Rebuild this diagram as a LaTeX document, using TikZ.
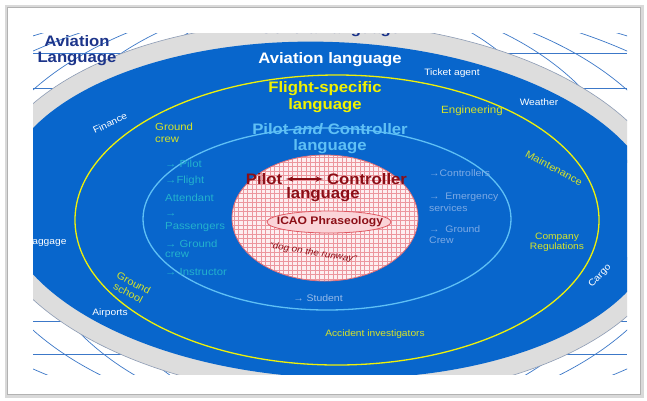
\documentclass[tikz,border=0pt]{standalone}
\usepackage{fontspec}
\setmainfont{Liberation Sans}[FakeStretch=1.1]
\usetikzlibrary{arrows}

\definecolor{navy}{RGB}{28,52,138}
\definecolor{avblue}{RGB}{8,102,204}
\definecolor{ringgray}{RGB}{221,221,221}
\definecolor{ringline}{RGB}{140,155,180}
\definecolor{gridblue}{RGB}{60,120,200}
\definecolor{lineyellow}{RGB}{238,240,10}
\definecolor{textyellow}{RGB}{215,228,40}
\definecolor{headyellow}{RGB}{242,242,0}
\definecolor{pcblue}{RGB}{95,192,245}
\definecolor{tealtext}{RGB}{35,178,205}
\definecolor{steel}{RGB}{125,170,228}
\definecolor{darkred}{RGB}{140,14,22}
\definecolor{pinkfill}{RGB}{253,238,240}
\definecolor{gridred}{RGB}{236,150,158}
\definecolor{coreline}{RGB}{222,110,120}
\definecolor{icaofill}{RGB}{251,212,216}
\definecolor{icaoline}{RGB}{224,88,98}

\begin{document}
\begin{tikzpicture}[x=1pt,y=-1pt]

\tikzset{globe/.style = {draw=gridblue, line width=0.7pt}}
\tikzset{ring/.style = {line width=1.3pt}}
\tikzset{head/.style = {font=\bfseries\fontsize{15.2}{16}\selectfont, align=center}}
\tikzset{core/.style = {font=\bfseries\fontsize{15.2}{16}\selectfont, text=darkred}}
\tikzset{tag/.style = {font=\fontsize{9.3}{10.5}\selectfont, align=center}}
\tikzset{item/.style = {font=\fontsize{10.3}{12}\selectfont, anchor=west, inner sep=0pt}}
\tikzset{edge/.style = {<->,> = latex', line width=1.6pt}}

\useasboundingbox (0,0) rectangle (647,400);
\fill[white] (0,0) rectangle (647,400);
\draw[black!15, line width=3pt] (6,6) rectangle (642,396);
\draw[black!30, line width=0.6pt] (7.5,7.5) rectangle (640.5,394.5);

% globe and outer rings
\begin{scope}
\clip (33,33) rectangle (627,374);
\draw[globe] (330,210) ellipse [x radius=250, y radius=215];
\draw[globe] (330,210) ellipse [x radius=305, y radius=215];
\draw[globe] (330,210) ellipse [x radius=358, y radius=215];
\draw[globe] (330,210) ellipse [x radius=441, y radius=215];
\draw[globe] (330,210) ellipse [x radius=506, y radius=215];
\draw[globe] (33,53) -- (627,53);
\draw[globe] (33,88) -- (627,88);
\draw[globe] (33,120) -- (627,120);
\draw[globe] (33,321) -- (627,321);
\draw[globe] (33,354) -- (627,354);
\filldraw[fill=ringgray, draw=ringline, line width=0.6pt, rotate around={-2.3:(330,210)}] (330,210) ellipse [x radius=348, y radius=188];
\fill[avblue, rotate around={-2.3:(330,210)}] (330,210) ellipse [x radius=330, y radius=168];
\node[head, text=navy] (general) at (330,30) {General language};
\node[tag, text=white] (baggage) at (46,242) {Baggage};
\node[tag, text=white] (systems) at (326,381) {Systems};
\end{scope}

% inner rings
\draw[ring, draw=lineyellow] (337,220) ellipse [x radius=262, y radius=145];
\draw[ring, draw=pcblue] (327,219) ellipse [x radius=184, y radius=91];

% pilot - controller core
\begin{scope}
\clip (325,218) ellipse [x radius=93, y radius=63];
\fill[pinkfill] (230,150) rectangle (420,285);
\draw[gridred, line width=0.6pt, step=4.5pt] (230,285) grid (420,150);
\end{scope}
\draw[coreline, line width=0.8pt] (325,218) ellipse [x radius=93, y radius=63];
\filldraw[fill=icaofill, draw=icaoline, line width=0.8pt] (329,222) ellipse [x radius=62, y radius=11];

\node[core] (pilot) at (264,179) {Pilot};
\node[core] (controller) at (367,179) {Controller};
\node[core] (corelang) at (323,195) {language};
\draw[edge, darkred] (pilot) -- (controller);
\node[font=\bfseries\fontsize{11}{12}\selectfont, text=darkred] (icao) at (330,222) {ICAO Phraseology};
\node[font=\itshape\fontsize{9}{10}\selectfont, text=darkred, rotate=-9] (dog) at (313,253) {``dog on the runway''};

% titles
\node[head, text=navy] (avtitle) at (77,51) {Aviation\\Language};
\node[head, text=white] (avlang) at (330,60) {Aviation language};
\node[head, text=headyellow, font=\bfseries\fontsize{15.2}{17}\selectfont] (flight) at (325,97.5) {Flight-specific\\language};
\node[head, text=pcblue] (pctitle) at (330,139) {Pilot \textit{and} Controller\\language};

% aviation ring
\node[tag, text=white] (ticket) at (452,73) {Ticket agent};
\node[tag, text=white] (weather) at (539,102) {Weather};
\node[tag, text=white, rotate=25] (finance) at (110,123) {Finance};
\node[tag, text=white, rotate=47] (cargo) at (600,276) {Cargo};
\node[tag, text=white] (airports) at (110,313) {Airports};

% flight-specific ring
\node[tag, text=textyellow, font=\fontsize{10.5}{12}\selectfont] (engineering) at (472,111) {Engineering};
\node[tag, text=textyellow, font=\fontsize{10.3}{12}\selectfont, align=left, anchor=west, inner sep=0pt] (groundcrew) at (155,133) {Ground\\crew};
\node[tag, text=textyellow, font=\fontsize{10}{11}\selectfont, rotate=-28] (maintenance) at (554,168) {Maintenance};
\node[tag, text=textyellow] (company) at (557,242) {Company\\Regulations};
\node[tag, text=textyellow, font=\fontsize{10}{11.5}\selectfont, rotate=-28] (groundschool) at (131,288) {Ground\\school};
\node[tag, text=textyellow] (accident) at (375,334) {Accident investigators};

% pilot and controller ring
\node[item, text=tealtext] (pilotitem) at (165,164) {→ Pilot};
\node[item, text=tealtext] (flightitem) at (165,181) {→Flight};
\node[item, text=tealtext] (attendant) at (165,198) {Attendant};
\node[item, text=tealtext] (passarrow) at (165,215) {→};
\node[item, text=tealtext] (passengers) at (165,227) {Passengers};
\node[item, text=tealtext] (grounditem) at (165,244) {→ Ground};
\node[item, text=tealtext] (crewitem) at (165,255) {crew};
\node[item, text=tealtext] (instructor) at (165,272) {→ Instructor};

\node[item, text=steel, font=\fontsize{9.5}{11}\selectfont] (controllers) at (429,173) {→Controllers};
\node[item, text=steel, font=\fontsize{9.5}{11}\selectfont] (emergency) at (429,197) {→ \ Emergency};
\node[item, text=steel, font=\fontsize{9.5}{11}\selectfont] (services) at (429,208) {services};
\node[item, text=steel, font=\fontsize{9.5}{11}\selectfont] (groundright) at (429,229) {→ \ Ground};
\node[item, text=steel, font=\fontsize{9.5}{11}\selectfont] (crewright) at (429,240) {Crew};
\node[tag, text=steel!80!white, font=\fontsize{9.5}{11}\selectfont] (student) at (318,298) {→ Student};

\end{tikzpicture}
\end{document}
